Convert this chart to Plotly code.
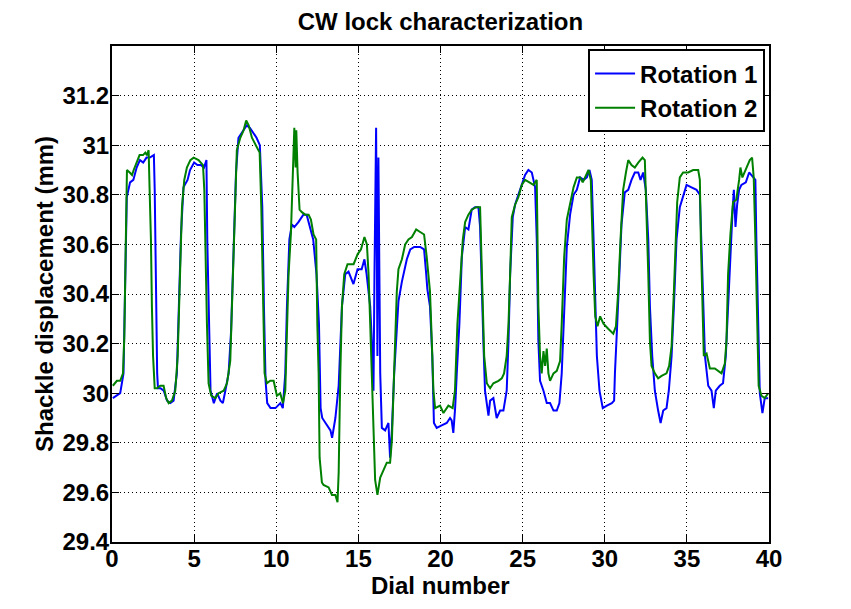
import plotly.graph_objects as go

# Rotation 1 (blue) - digitised
rot1_x = [0.05, 0.5, 0.7, 0.8, 0.9, 1.1, 1.3, 1.5, 1.7, 1.9, 2.1, 2.3, 2.55, 2.6, 2.65, 2.75, 2.8, 2.95,
          3.15, 3.35, 3.55, 3.75, 3.95, 4.05, 4.2, 4.35, 4.6, 4.75, 5.0, 5.2, 5.4, 5.6, 5.75, 5.8, 5.9,
          6.0, 6.2, 6.4, 6.6, 6.75, 6.9, 7.1, 7.25, 7.4, 7.55, 7.7, 8.0, 8.2, 8.4, 8.6, 8.8, 9.0, 9.15,
          9.25, 9.35, 9.45, 9.65, 9.95, 10.25, 10.4, 10.55, 10.65, 10.8, 10.95, 11.1, 11.35, 11.65,
          11.85, 12.05, 12.25, 12.45, 12.6, 12.7, 12.8, 13.0, 13.3, 13.4, 13.6, 13.8, 14.0, 14.2, 14.4,
          14.7, 14.95, 15.2, 15.37, 15.5, 15.72, 15.82, 15.92, 15.98, 16.08, 16.16, 16.22, 16.33, 16.43,
          16.63, 16.83, 16.93, 17.04, 17.18, 17.3, 17.44, 17.65, 17.95, 18.16, 18.4, 18.76, 19.0, 19.13,
          19.2, 19.36, 19.5, 19.6, 19.77, 20.07, 20.38, 20.58, 20.68, 20.78, 20.89, 20.99, 21.15, 21.3,
          21.5, 21.7, 21.9, 22.1, 22.31, 22.41, 22.51, 22.61, 22.71, 22.92, 23.02, 23.22, 23.42, 23.63,
          23.83, 24.03, 24.14, 24.24, 24.4, 24.54, 24.74, 24.95, 25.15, 25.35, 25.56, 25.76, 25.86,
          25.96, 26.06, 26.27, 26.47, 26.67, 26.88, 27.08, 27.24, 27.38, 27.53, 27.69, 27.89, 28.1,
          28.3, 28.5, 28.71, 28.91, 29.07, 29.21, 29.32, 29.42, 29.52, 29.68, 29.88, 30.13, 30.43,
          30.57, 30.62, 30.76, 30.88, 31.02, 31.22, 31.43, 31.63, 31.83, 32.04, 32.18, 32.34, 32.5,
          32.65, 32.75, 32.89, 33.05, 33.25, 33.4, 33.56, 33.76, 33.9, 34.07, 34.21, 34.37, 34.57,
          34.77, 34.98, 35.28, 35.59, 35.79, 35.85, 35.95, 36.1, 36.3, 36.5, 36.64, 36.76, 37.0, 37.2,
          37.37, 37.51, 37.61, 37.77, 37.86, 37.96, 38.06, 38.18, 38.32, 38.59, 38.79, 39.03, 39.17,
          39.23, 39.34, 39.44, 39.6, 39.74, 39.95]
rot1_y = [29.98, 30.0, 30.08, 30.48, 30.79, 30.85, 30.86, 30.91, 30.94, 30.93, 30.95, 30.95, 30.96, 30.82,
          30.48, 30.08, 30.02, 30.02, 30.01, 29.97, 29.96, 29.97, 30.08, 30.35, 30.64, 30.83, 30.86,
          30.90, 30.93, 30.92, 30.92, 30.91, 30.94, 30.62, 30.28, 30.01, 29.96, 30.0, 29.97, 29.96,
          30.01, 30.08, 30.25, 30.62, 30.89, 31.03, 31.06, 31.08, 31.07, 31.05, 31.03, 31.0, 30.75,
          30.35, 30.05, 29.96, 29.94, 29.94, 29.96, 29.94, 30.08, 30.35, 30.62, 30.68, 30.67, 30.69,
          30.72, 30.72, 30.67, 30.62, 30.48, 30.28, 29.94, 29.90, 29.88, 29.85, 29.82, 29.90, 30.03,
          30.35, 30.48, 30.49, 30.44, 30.50, 30.50, 30.54, 30.48, 30.35, 30.21, 30.01, 30.48, 31.07,
          30.15, 30.95, 30.08, 29.86, 29.85, 29.88, 29.74, 29.85, 30.08, 30.21, 30.37, 30.45, 30.54,
          30.58, 30.59, 30.59, 30.58, 30.48, 30.42, 30.35, 30.15, 29.88, 29.86, 29.87, 29.88, 29.90,
          29.89, 29.84, 29.94, 30.08, 30.28, 30.55, 30.67, 30.66, 30.74, 30.75, 30.75, 30.67, 30.48,
          30.21, 30.01, 29.91, 29.97, 29.98, 29.90, 29.93, 29.93, 30.01, 30.21, 30.48, 30.71, 30.76,
          30.80, 30.84, 30.88, 30.90, 30.89, 30.83, 30.62, 30.21, 30.05, 30.01, 29.96, 29.96, 29.93,
          29.93, 29.96, 30.08, 30.35, 30.59, 30.72, 30.80, 30.82, 30.87, 30.86, 30.87, 30.90, 30.86,
          30.62, 30.35, 30.15, 30.01, 29.94, 29.95, 29.96, 29.97, 30.08, 30.28, 30.48, 30.68, 30.81,
          30.82, 30.86, 30.89, 30.89, 30.86, 30.89, 30.82, 30.62, 30.35, 30.15, 30.01, 29.93, 29.88,
          29.93, 29.94, 30.01, 30.15, 30.35, 30.62, 30.75, 30.79, 30.84, 30.83, 30.82, 30.80, 30.68,
          30.41, 30.15, 30.03, 30.01, 29.94, 30.01, 30.03, 30.04, 30.15, 30.35, 30.55, 30.72, 30.82,
          30.67, 30.76, 30.82, 30.84, 30.85, 30.89, 30.87, 30.86, 30.62, 30.28, 30.0, 29.92, 29.98,
          29.98]

# Rotation 2 (green) - digitised
rot2_x = [0.05, 0.3, 0.5, 0.67, 0.75, 0.83, 0.91, 1.08, 1.22, 1.32, 1.48, 1.68, 1.89, 2.03, 2.13, 2.23,
          2.29, 2.37, 2.43, 2.5, 2.6, 2.74, 2.94, 3.14, 3.3, 3.45, 3.65, 3.85, 4.0, 4.12, 4.26, 4.4,
          4.56, 4.77, 4.97, 5.27, 5.54, 5.62, 5.7, 5.78, 5.88, 6.04, 6.29, 6.49, 6.8, 7.0, 7.2, 7.3,
          7.4, 7.5, 7.6, 7.81, 8.01, 8.17, 8.32, 8.52, 8.66, 8.82, 8.99, 9.09, 9.19, 9.29, 9.43, 9.63,
          9.84, 10.04, 10.24, 10.41, 10.55, 10.65, 10.75, 10.89, 10.99, 11.1, 11.18, 11.22, 11.3,
          11.42, 11.56, 11.76, 11.97, 12.11, 12.27, 12.43, 12.5, 12.58, 12.64, 12.78, 12.88, 13.19,
          13.39, 13.6, 13.73, 13.8, 13.9, 14.0, 14.14, 14.34, 14.71, 14.95, 15.16, 15.37, 15.52,
          15.62, 15.72, 15.82, 15.92, 16.02, 16.16, 16.33, 16.53, 16.73, 16.93, 17.04, 17.14, 17.24,
          17.34, 17.44, 17.65, 17.85, 18.05, 18.26, 18.52, 18.76, 19.0, 19.16, 19.36, 19.47, 19.57,
          19.67, 19.97, 20.18, 20.48, 20.74, 20.88, 21.03, 21.2, 21.36, 21.5, 21.7, 21.9, 22.17,
          22.41, 22.47, 22.55, 22.66, 22.82, 23.02, 23.22, 23.53, 23.73, 23.87, 24.03, 24.14, 24.24,
          24.34, 24.54, 24.74, 24.95, 25.15, 25.41, 25.66, 25.86, 25.9, 25.96, 26.06, 26.16, 26.27,
          26.37, 26.47, 26.57, 26.67, 26.88, 27.08, 27.28, 27.38, 27.53, 27.69, 27.89, 28.1, 28.3,
          28.5, 28.66, 28.81, 29.01, 29.15, 29.21, 29.32, 29.42, 29.56, 29.72, 29.92, 30.21, 30.52,
          30.68, 30.82, 30.96, 31.12, 31.29, 31.43, 31.63, 31.83, 32.04, 32.3, 32.44, 32.54, 32.65,
          32.75, 32.85, 33.05, 33.25, 33.46, 33.76, 33.92, 34.07, 34.21, 34.33, 34.41, 34.57, 34.77,
          35.08, 35.38, 35.69, 35.79, 35.85, 35.93, 36.03, 36.2, 36.4, 36.7, 37.11, 37.31, 37.41,
          37.51, 37.65, 37.81, 38.01, 38.18, 38.26, 38.38, 38.52, 38.67, 38.83, 38.97, 39.07, 39.17,
          39.27, 39.37, 39.54, 39.74, 39.95]
rot2_y = [30.03, 30.05, 30.05, 30.08, 30.23, 30.62, 30.90, 30.89, 30.88, 30.90, 30.93, 30.96, 30.96, 30.97,
          30.96, 30.98, 30.82, 30.62, 30.35, 30.15, 30.02, 30.02, 30.03, 30.03, 29.98, 29.96, 29.97,
          30.01, 30.15, 30.41, 30.75, 30.86, 30.91, 30.94, 30.95, 30.94, 30.92, 30.82, 30.48, 30.28,
          30.04, 29.99, 29.98, 30.0, 30.01, 30.04, 30.13, 30.35, 30.55, 30.86, 30.98, 31.03, 31.06,
          31.10, 31.08, 31.03, 31.01, 30.99, 30.97, 30.75, 30.35, 30.08, 30.04, 30.05, 30.05, 29.99,
          30.0, 29.96, 30.01, 30.21, 30.48, 30.64, 30.86, 31.07, 30.91, 31.06, 30.89, 30.74, 30.73,
          30.72, 30.72, 30.70, 30.64, 30.62, 30.28, 30.08, 29.74, 29.64, 29.63, 29.62, 29.59, 29.59,
          29.56, 29.68, 30.08, 30.35, 30.48, 30.52, 30.52, 30.56, 30.58, 30.63, 30.60, 30.48, 30.28,
          30.08, 29.81, 29.65, 29.59, 29.66, 29.69, 29.72, 29.72, 29.81, 30.01, 30.21, 30.41, 30.50,
          30.54, 30.60, 30.62, 30.63, 30.66, 30.65, 30.64, 30.55, 30.41, 30.21, 30.01, 29.94, 29.95,
          29.92, 29.95, 29.94, 30.01, 30.28, 30.48, 30.62, 30.69, 30.72, 30.74, 30.75, 30.75, 30.62,
          30.35, 30.15, 30.04, 30.02, 30.04, 30.05, 30.06, 30.08, 30.15, 30.28, 30.48, 30.71, 30.76,
          30.79, 30.84, 30.86, 30.85, 30.84, 30.86, 30.62, 30.35, 30.15, 30.08, 30.17, 30.11, 30.18,
          30.08, 30.05, 30.08, 30.09, 30.13, 30.28, 30.55, 30.70, 30.76, 30.83, 30.87, 30.87, 30.85,
          30.87, 30.90, 30.86, 30.68, 30.48, 30.31, 30.27, 30.31, 30.28, 30.26, 30.24, 30.27, 30.41,
          30.62, 30.82, 30.89, 30.94, 30.92, 30.91, 30.93, 30.95, 30.94, 30.75, 30.48, 30.21, 30.11,
          30.08, 30.06, 30.07, 30.08, 30.11, 30.19, 30.41, 30.62, 30.77, 30.87, 30.89, 30.89, 30.90,
          30.90, 30.86, 30.62, 30.35, 30.15, 30.16, 30.10, 30.10, 30.08, 30.12, 30.21, 30.48, 30.64,
          30.77, 30.78, 30.86, 30.91, 30.87, 30.89, 30.91, 30.94, 30.95, 30.87, 30.62, 30.28, 30.03,
          29.99, 29.98, 30.0]

x_ticks = [0, 5, 10, 15, 20, 25, 30, 35, 40]
y_ticks = [29.4, 29.6, 29.8, 30.0, 30.2, 30.4, 30.6, 30.8, 31.0, 31.2]
y_ticktext = ["29.4", "29.6", "29.8", "30", "30.2", "30.4", "30.6", "30.8", "31", "31.2"]

FONT = "Liberation Sans"
FS = 24
W, H = 843, 601  # page body has an 8px margin inside the 851x609 window

fig = go.Figure()
fig.add_trace(go.Scatter(x=rot1_x, y=rot1_y, mode="lines", name="Rotation 1",
                         line=dict(color="#0000FF", width=2)))
fig.add_trace(go.Scatter(x=rot2_x, y=rot2_y, mode="lines", name="Rotation 2",
                         line=dict(color="#008000", width=2)))

axis_common = dict(
    showline=True, linecolor="black", linewidth=2, mirror="ticks",
    ticks="inside", ticklen=7, tickwidth=1, tickcolor="black",
    showgrid=True, gridcolor="black", gridwidth=1, griddash="1px,3px",
    zeroline=False, automargin=False,
    tickfont=dict(family=FONT, size=FS, color="black", weight="bold"),
)

label_font = dict(family=FONT, size=FS, color="black", weight="bold")

fig.update_layout(
    width=W, height=H,
    paper_bgcolor="white", plot_bgcolor="white",
    margin=dict(l=104, r=82, t=38, b=67, autoexpand=False),
    title=dict(text="CW lock characterization", x=0.5, xref="paper", xanchor="center",
               y=1 - 14 / H, yref="container", yanchor="middle", font=label_font),
    xaxis=dict(range=[0, 40], tickvals=x_ticks, ticktext=[str(v) for v in x_ticks],
               ticklabelstandoff=-6, **axis_common),
    yaxis=dict(range=[29.4, 31.4], tickvals=y_ticks, ticktext=y_ticktext,
               ticklabelstandoff=-4, **axis_common),
    legend=dict(x=0.994, y=0.993, xanchor="right", yanchor="top",
                bgcolor="white", bordercolor="black", borderwidth=2,
                font=label_font, itemwidth=40, tracegroupgap=0),
    showlegend=True,
    annotations=[
        dict(text="Dial number", xref="paper", yref="paper", x=0.5, y=-(577 - 534) / 496,
             xanchor="center", yanchor="middle", showarrow=False, font=label_font),
        dict(text="Shackle displacement (mm)", xref="paper", yref="paper",
             x=(36 - 104) / 657, y=0.5, textangle=-90,
             xanchor="center", yanchor="middle", showarrow=False, font=label_font),
    ],
)

fig.write_html("out.html")
